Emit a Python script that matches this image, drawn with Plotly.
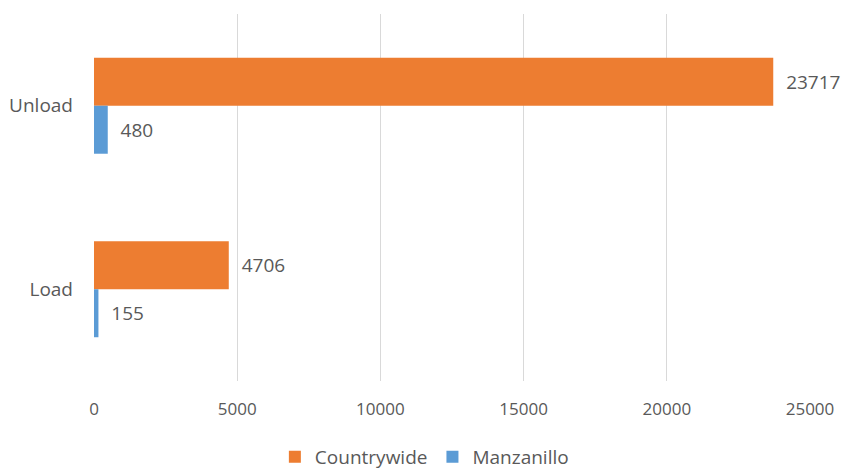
import plotly.graph_objects as go

# Container movements by operation type
operations = ["Unload", "Load"]
countrywide = [23717, 4706]
manzanillo = [480, 155]
x_ticks = [0, 5000, 10000, 15000, 20000, 25000]

ORANGE = "#ED7D31"
BLUE = "#5B9BD5"
TEXT = "#595959"
FONT = "Open Sans, Segoe UI, Calibri, sans-serif"


def bar_labels(values):
    return ["  " + str(v) for v in values]


fig = go.Figure()
fig.add_trace(go.Bar(
    name="Countrywide", y=operations, x=countrywide, orientation="h",
    marker=dict(color=ORANGE, line=dict(width=0)),
    text=bar_labels(countrywide), textposition="outside", constraintext="none",
    cliponaxis=False, textfont=dict(size=19, color=TEXT, family=FONT),
))
fig.add_trace(go.Bar(
    name="Manzanillo", y=operations, x=manzanillo, orientation="h",
    marker=dict(color=BLUE, line=dict(width=0)),
    text=bar_labels(manzanillo), textposition="outside", constraintext="none",
    cliponaxis=False, textfont=dict(size=19, color=TEXT, family=FONT),
))

fig.update_layout(
    width=842, height=471,
    margin=dict(l=94, r=32, t=14, b=90, autoexpand=False),
    paper_bgcolor="white", plot_bgcolor="white",
    barmode="group", bargap=0.477, bargroupgap=0,
    font=dict(family=FONT, size=19, color=TEXT),
    showlegend=True,
    legend=dict(orientation="h", x=0.504, xanchor="center", xref="container",
                y=0.03, yanchor="middle", yref="container",
                font=dict(size=19, color=TEXT), traceorder="normal"),
    xaxis=dict(range=[0, 25000], tickvals=x_ticks, ticktext=[str(v) for v in x_ticks],
               showgrid=True, gridcolor="#D9D9D9", gridwidth=1, zeroline=False,
               showline=False, ticks="", ticklabelstandoff=16,
               tickfont=dict(size=17)),
    yaxis=dict(categoryorder="array", categoryarray=operations, autorange="reversed",
               showgrid=False, zeroline=False, showline=False, ticks="",
               ticklabelstandoff=20),
)

fig.write_html("out.html")
